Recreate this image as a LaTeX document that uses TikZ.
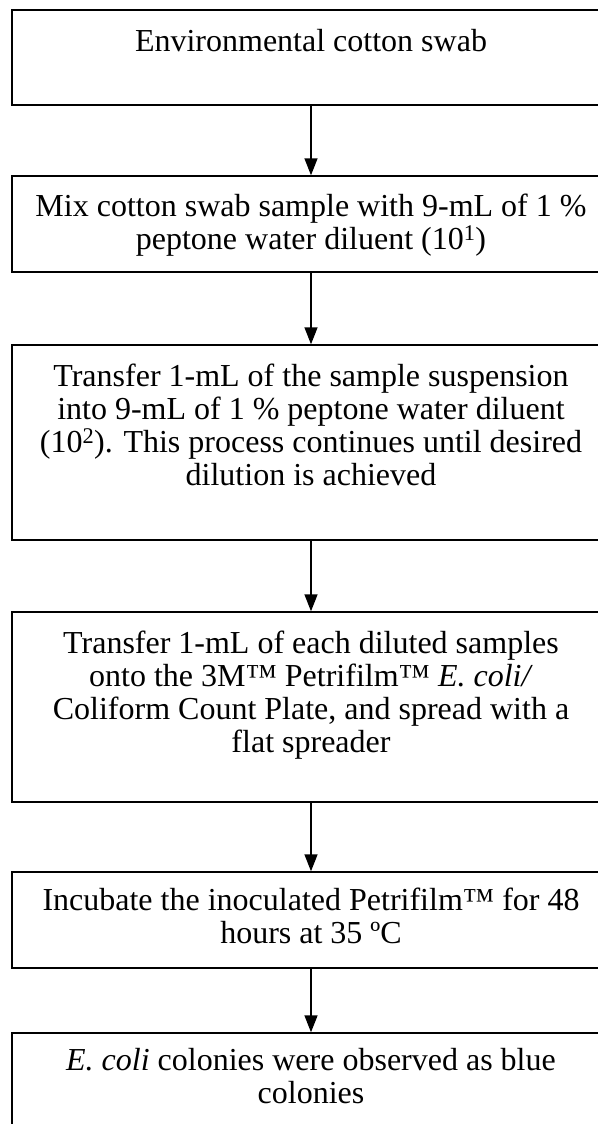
\documentclass[tikz,border=0pt]{standalone}
\usepackage{fontspec}
\setmainfont{Liberation Serif}
\usetikzlibrary{arrows.meta}
\begin{document}
\begin{tikzpicture}[x=1pt,y=1pt,
  box/.style={draw, line width=1.5pt, rectangle, minimum width=598pt, inner sep=0pt},
  lbl/.style={align=center, font=\fontsize{32}{33}\selectfont, inner sep=0pt, anchor=north},
  arr/.style={-{Triangle[width=13pt,length=17pt]}, line width=1.7pt}]
\fill[white] (0,0) rectangle (597,-1124);
\useasboundingbox (0,0) rectangle (597,-1124);
% boxes: x from 12 to 610, center 311
\node[box, minimum height=95pt] (b1) at (311,-57.5) {};
\node[box, minimum height=96pt] (b2) at (311,-224) {};
\node[box, minimum height=195pt] (b3) at (311,-442.5) {};
\node[box, minimum height=190pt] (b4) at (311,-707) {};
\node[box, minimum height=96pt] (b5) at (311,-920) {};
\node[box, minimum height=110pt] (b6) at (311,-1088) {};
% texts
\node[lbl] (t1) at (311,-29) {Environmental cotton swab};
\node[lbl] (t2) at (311,-194) {Mix cotton swab sample with 9-mL of 1 \%\\peptone water diluent (10\textsuperscript{1})};
\node[lbl] (t3) at (311,-364) {Transfer 1-mL of the sample suspension\\into 9-mL of 1 \% peptone water diluent\\(10\textsuperscript{2}). This process continues until desired\\dilution is achieved};
\node[lbl] (t4) at (311,-631) {Transfer 1-mL of each diluted samples\\onto the 3M™ Petrifilm™ \textit{E. coli/}\\Coliform Count Plate, and spread with a\\flat spreader};
\node[lbl] (t5) at (311,-888) {Incubate the inoculated Petrifilm™ for 48\\hours at 35 ºC};
\node[lbl] (t6) at (311,-1048) {\textit{E. coli} colonies were observed as blue\\colonies};
% arrows
\draw[arr] (b1.south) -- (b2.north);
\draw[arr] (b2.south) -- (b3.north);
\draw[arr] (b3.south) -- (b4.north);
\draw[arr] (b4.south) -- (b5.north);
\draw[arr] (b5.south) -- (b6.north);
\end{tikzpicture}
\end{document}
